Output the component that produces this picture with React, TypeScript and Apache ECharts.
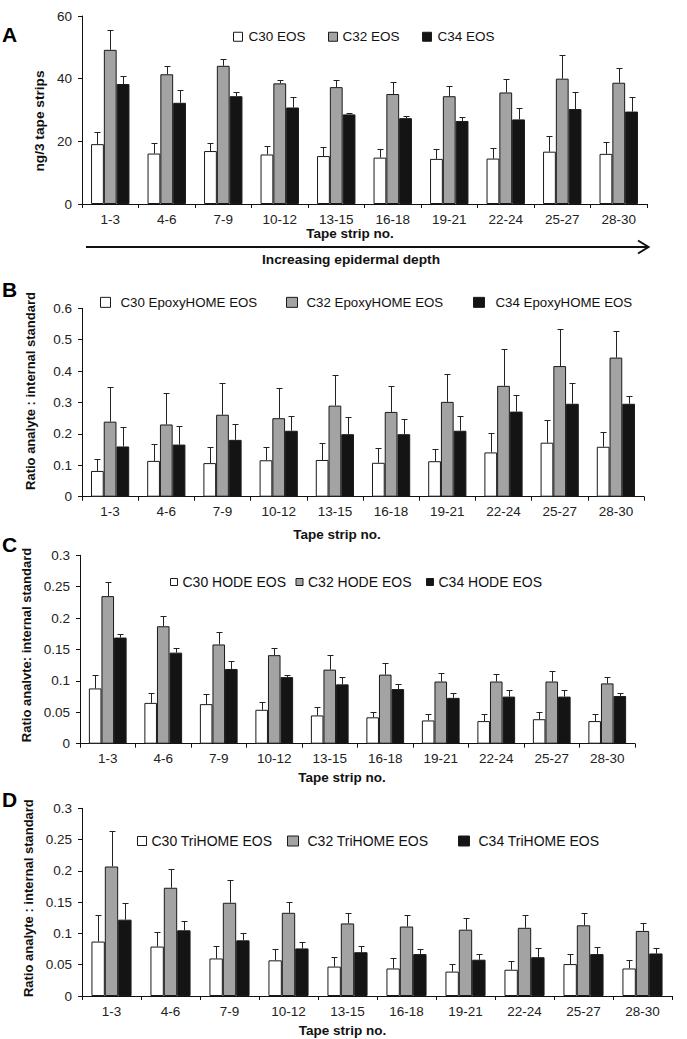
import React, { useEffect, useRef } from "react";
import * as echarts from "echarts";

// ---------- data ----------
const categories = ["1-3", "4-6", "7-9", "10-12", "13-15", "16-18", "19-21", "22-24", "25-27", "28-30"];

// Panel A – EOS (ng/3 tape strips)
const eosNames = ["C30 EOS", "C32 EOS", "C34 EOS"];
const eosTicks = [0, 20, 40, 60];
const eosC30 = [19.1, 16.1, 16.9, 15.8, 15.3, 14.8, 14.4, 14.5, 16.7, 16.0];
const eosC30Sd = [4.0, 3.5, 2.7, 2.7, 3.0, 2.8, 3.2, 3.4, 4.9, 3.9];
const eosC32 = [49.2, 41.4, 44.1, 38.5, 37.3, 35.1, 34.4, 35.6, 40.0, 38.7];
const eosC32Sd = [6.3, 2.6, 2.2, 1.0, 2.3, 3.7, 3.3, 4.3, 7.7, 4.7];
const eosC34 = [38.3, 32.3, 34.4, 30.8, 28.6, 27.4, 26.5, 27.0, 30.3, 29.5];
const eosC34Sd = [2.4, 4.0, 1.3, 3.3, 0.4, 0.7, 1.3, 3.5, 5.5, 4.5];

// Panel B – EpoxyHOME EOS
const epoxyNames = ["C30 EpoxyHOME EOS", "C32 EpoxyHOME EOS", "C34 EpoxyHOME EOS"];
const epoxyTicks = [0, 0.1, 0.2, 0.3, 0.4, 0.5, 0.6];
const epoxyC30 = [0.082, 0.114, 0.107, 0.116, 0.117, 0.108, 0.113, 0.141, 0.172, 0.159];
const epoxyC30Sd = [0.038, 0.053, 0.05, 0.043, 0.054, 0.048, 0.04, 0.062, 0.072, 0.048];
const epoxyC32 = [0.239, 0.23, 0.261, 0.25, 0.29, 0.27, 0.302, 0.353, 0.416, 0.443];
const epoxyC32Sd = [0.109, 0.101, 0.102, 0.097, 0.097, 0.081, 0.089, 0.118, 0.118, 0.084];
const epoxyC34 = [0.16, 0.166, 0.181, 0.21, 0.199, 0.199, 0.21, 0.271, 0.296, 0.296];
const epoxyC34Sd = [0.061, 0.058, 0.05, 0.046, 0.056, 0.048, 0.048, 0.054, 0.067, 0.025];

// Panel C – HODE EOS
const hodeNames = ["C30 HODE EOS", "C32 HODE EOS", "C34 HODE EOS"];
const hodeTicks = [0, 0.05, 0.1, 0.15, 0.2, 0.25, 0.3];
const hodeC30 = [0.088, 0.065, 0.063, 0.054, 0.045, 0.042, 0.037, 0.036, 0.039, 0.036];
const hodeC30Sd = [0.021, 0.016, 0.016, 0.013, 0.013, 0.008, 0.011, 0.012, 0.011, 0.011];
const hodeC32 = [0.235, 0.187, 0.158, 0.141, 0.118, 0.11, 0.099, 0.099, 0.099, 0.096];
const hodeC32Sd = [0.022, 0.016, 0.02, 0.011, 0.023, 0.018, 0.014, 0.012, 0.016, 0.01];
const hodeC34 = [0.169, 0.145, 0.119, 0.106, 0.0945, 0.087, 0.073, 0.075, 0.075, 0.076];
const hodeC34Sd = [0.006, 0.008, 0.012, 0.003, 0.0125, 0.0075, 0.008, 0.011, 0.011, 0.005];

// Panel D – TriHOME EOS
const triNames = ["C30 TriHOME EOS", "C32 TriHOME EOS", "C34 TriHOME EOS"];
const triTicks = [0, 0.05, 0.1, 0.15, 0.2, 0.25, 0.3];
const triC30 = [0.087, 0.079, 0.06, 0.057, 0.047, 0.044, 0.039, 0.042, 0.051, 0.044];
const triC30Sd = [0.043, 0.024, 0.02, 0.018, 0.015, 0.016, 0.012, 0.014, 0.016, 0.014];
const triC32 = [0.207, 0.173, 0.149, 0.133, 0.116, 0.111, 0.106, 0.109, 0.113, 0.104];
const triC32Sd = [0.057, 0.03, 0.036, 0.018, 0.016, 0.019, 0.019, 0.021, 0.02, 0.013];
const triC34 = [0.122, 0.105, 0.089, 0.076, 0.07, 0.067, 0.058, 0.062, 0.067, 0.068];
const triC34Sd = [0.026, 0.015, 0.011, 0.011, 0.01, 0.008, 0.009, 0.014, 0.012, 0.009];

const xTitle = "Tape strip no.";
const yTitles = [
  "ng/3 tape strips",
  "Ratio analyte : internal standard",
  "Ratio analvte: internal standard",
  "Ratio analyte : internal standard",
];
const panelLetters = ["A", "B", "C", "D"];
const depthLabel = "Increasing epidermal depth";

// ---------- styling / layout ----------
const FONT = "'Liberation Sans', Arial, Helvetica, sans-serif";
const FILLS = ["#ffffff", "#a3a3a3", "#141414"];
const BORDER = "#1a1a1a";
const GAP = 0.32;

const layouts = [
  {
    grid: { left: 82, top: 16, width: 565, height: 188 },
    yNameGap: 33, yNamePad: [0, 22, 0, 0], yNameSize: 13.7,
    xNameGap: 22, xNamePad: [0, 29, 0, 0],
    legendSize: 13.5, legendCy: 36.5,
    legendItems: [
      { left: 233, w: 9, h: 9, pad: 1 },
      { left: 328, w: 9, h: 9, pad: 0 },
      { left: 422, w: 9, h: 9, pad: 1 },
    ],
    letterY: 35,
  },
  {
    grid: { left: 82, top: 308.3, width: 562, height: 188.4 },
    yNameGap: 45, yNamePad: [0, 0, 0, 23], yNameSize: 13,
    xNameGap: 31, xNamePad: [0, 52, 0, 0],
    legendSize: 13.3, legendCy: 302.5,
    legendItems: [
      { left: 100, w: 10, h: 10, pad: 5 },
      { left: 286, w: 11, h: 10, pad: 4 },
      { left: 473, w: 11, h: 10, pad: 6 },
    ],
    letterY: 290,
  },
  {
    grid: { left: 80, top: 555.3, width: 555, height: 188.4 },
    yNameGap: 45, yNamePad: [0, 0, 0, 9], yNameSize: 13,
    xNameGap: 27, xNamePad: [0, 31, 0, 0],
    legendSize: 14, legendCy: 582,
    legendItems: [
      { left: 170, w: 7, h: 7, pad: 0 },
      { left: 295.5, w: 7, h: 7, pad: 0 },
      { left: 426, w: 7, h: 7, pad: 0 },
    ],
    letterY: 545,
  },
  {
    grid: { left: 82, top: 808.3, width: 590, height: 187.7 },
    yNameGap: 44, yNamePad: [0, 0, 0, 8], yNameSize: 13,
    xNameGap: 27, xNamePad: [0, 69, 0, 0],
    legendSize: 14, legendCy: 841,
    legendItems: [
      { left: 137, w: 9, h: 9, pad: 0 },
      { left: 287, w: 11, h: 10, pad: 4 },
      { left: 458, w: 11, h: 10, pad: 4 },
    ],
    letterY: 800,
  },
];

const panels = [
  { names: eosNames, ticks: eosTicks, means: [eosC30, eosC32, eosC34], sds: [eosC30Sd, eosC32Sd, eosC34Sd] },
  { names: epoxyNames, ticks: epoxyTicks, means: [epoxyC30, epoxyC32, epoxyC34], sds: [epoxyC30Sd, epoxyC32Sd, epoxyC34Sd] },
  { names: hodeNames, ticks: hodeTicks, means: [hodeC30, hodeC32, hodeC34], sds: [hodeC30Sd, hodeC32Sd, hodeC34Sd] },
  { names: triNames, ticks: triTicks, means: [triC30, triC32, triC34], sds: [triC30Sd, triC32Sd, triC34Sd] },
];

function buildOption() {
  const grid: any[] = [];
  const xAxis: any[] = [];
  const yAxis: any[] = [];
  const series: any[] = [];
  const legend: any[] = [];
  const graphic: any[] = [];

  panels.forEach((p, i) => {
    const L = layouts[i];
    grid.push({ ...L.grid, containLabel: false });
    xAxis.push({
      type: "category",
      gridIndex: i,
      data: categories,
      name: xTitle,
      nameLocation: "middle",
      nameGap: L.xNameGap,
      nameTextStyle: { fontFamily: FONT, fontWeight: "bold", fontSize: 13.5, color: "#111", padding: L.xNamePad },
      axisLine: { lineStyle: { color: "#111", width: 1 } },
      axisTick: { show: true, length: 4, lineStyle: { color: "#111" } },
      axisLabel: { fontFamily: FONT, fontSize: 13.5, color: "#222", margin: 8, interval: 0 },
      splitLine: { show: false },
    });
    const t = p.ticks;
    yAxis.push({
      type: "value",
      gridIndex: i,
      min: t[0],
      max: t[t.length - 1],
      interval: t[1] - t[0],
      name: yTitles[i],
      nameLocation: "middle",
      nameGap: L.yNameGap,
      nameTextStyle: { fontFamily: FONT, fontWeight: "bold", fontSize: L.yNameSize, color: "#111", padding: L.yNamePad },
      axisLine: { show: true, lineStyle: { color: "#111", width: 1 } },
      axisTick: { show: true, length: 4, lineStyle: { color: "#111" } },
      axisLabel: { fontFamily: FONT, fontSize: 13.5, color: "#222", margin: 10 },
      splitLine: { show: false },
    });

    p.names.forEach((name, s) => {
      series.push({
        type: "bar",
        name,
        xAxisIndex: i,
        yAxisIndex: i,
        data: p.means[s],
        barGap: "0%",
        barCategoryGap: `${GAP * 100}%`,
        itemStyle: { color: FILLS[s], borderColor: BORDER, borderWidth: 1 },
        emphasis: { disabled: true },
        z: 2,
      });
      const it = L.legendItems[s];
      legend.push({
        left: it.left,
        top: L.legendCy - L.legendSize / 2,
        padding: 0,
        itemWidth: it.w,
        itemHeight: it.h,
        icon: "rect",
        selectedMode: false,
        data: [name],
        itemStyle: { borderColor: BORDER, borderWidth: 1 },
        textStyle: { fontFamily: FONT, fontSize: L.legendSize, color: "#111", padding: [0, 0, 0, it.pad] },
      });
    });

    const errData: number[][] = [];
    p.means.forEach((arr, s) => {
      arr.forEach((m, c) => errData.push([c, s, m, p.sds[s][c]]));
    });
    series.push({
      type: "custom",
      name: "error-" + panelLetters[i],
      xAxisIndex: i,
      yAxisIndex: i,
      data: errData,
      encode: { x: 0, y: 2 },
      z: 3,
      silent: true,
      renderItem: (params: any, api: any) => {
        const cat = api.value(0);
        const s = api.value(1);
        const mean = api.value(2);
        const sd = api.value(3);
        const band = api.size([1, 0])[0];
        const bw = (band * (1 - GAP)) / 3;
        const base = api.coord([cat, mean]);
        const top = api.coord([cat, mean + sd]);
        const x = Math.round(base[0] + (s - 1) * bw) + 0.5;
        const yTop = Math.round(top[1]) + 0.5;
        const style = { stroke: "#222", lineWidth: 1 };
        return {
          type: "group",
          children: [
            { type: "line", shape: { x1: x, y1: base[1], x2: x, y2: yTop }, style },
            { type: "line", shape: { x1: x - 3, y1: yTop, x2: x + 3, y2: yTop }, style },
          ],
        };
      },
    });

    graphic.push({
      type: "text",
      left: 2,
      top: L.letterY - 11,
      style: { text: panelLetters[i], font: `bold 21px ${FONT}`, fill: "#000" },
    });
  });

  // arrow under panel A
  graphic.push({
    type: "polyline",
    shape: { points: [[86, 247], [647, 247]] },
    style: { stroke: "#111", lineWidth: 2, fill: "none" },
  });
  graphic.push({
    type: "polyline",
    shape: { points: [[638, 240.5], [648.5, 247], [638, 253.5]] },
    style: { stroke: "#111", lineWidth: 2, fill: "none" },
  });
  graphic.push({
    type: "text",
    x: 351,
    y: 259,
    style: {
      text: depthLabel,
      font: `bold 13.7px ${FONT}`,
      fill: "#111",
      textAlign: "center",
      textVerticalAlign: "middle",
    },
  });

  return {
    animation: false,
    backgroundColor: "#ffffff",
    textStyle: { fontFamily: FONT },
    grid,
    xAxis,
    yAxis,
    legend,
    series,
    graphic,
  };
}

export default function App() {
  const ref = useRef<HTMLDivElement>(null);
  useEffect(() => {
    if (!ref.current) return;
    const chart = echarts.init(ref.current, undefined, { renderer: "svg" });
    chart.setOption(buildOption() as any);
    return () => chart.dispose();
  }, []);
  return (
    <div
      ref={ref}
      style={{ position: "absolute", left: 0, top: 0, width: 687, height: 1039, background: "#fff" }}
    />
  );
}
